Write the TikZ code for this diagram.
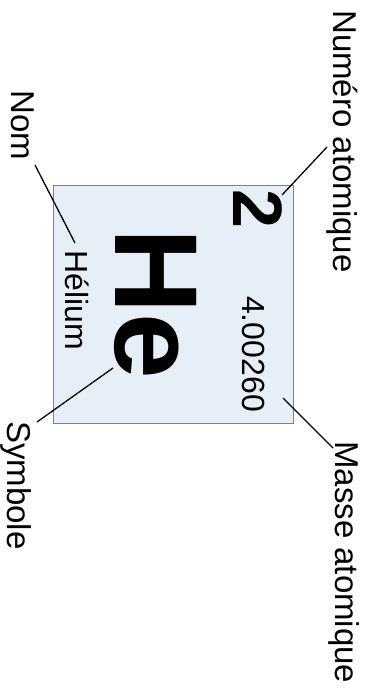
\documentclass[tikz,border=0pt]{standalone}
\usepackage{fontspec}
\setmainfont{Liberation Sans}
\usetikzlibrary{positioning}
\definecolor{cellfill}{RGB}{230,238,248}
\definecolor{cellline}{RGB}{128,128,128}

\begin{document}
\begin{tikzpicture}[x=1pt,y=1pt,
  lbl/.style={rotate=-90,anchor=base west,inner sep=0pt,font=\fontsize{33}{33}\selectfont},
  inlbl/.style={rotate=-90,anchor=base west,inner sep=0pt,font=\fontsize{32}{32}\selectfont},
  lead/.style={line width=1.3pt,black},
]
  \useasboundingbox (0,0) rectangle (368,-691);
  % element cell
  \node[draw=cellline,line width=1.3pt,fill=cellfill,minimum width=240pt,minimum height=238pt,
    inner sep=0pt,anchor=north west] (cell) at (53,-185) {};
  \node[rotate=-90,anchor=base west,inner sep=0pt,font=\fontsize{70}{70}\selectfont\bfseries] (num) at (233,-189) {2};
  \node[rotate=-90,anchor=base west,inner sep=0pt,font=\fontsize{118}{118}\selectfont\bfseries] (sym) at (115,-228) {He};
  \node[inlbl] (name) at (65,-250) {Hélium};
  \node[inlbl] (mass) at (242,-296) {4.00260};
  % labels
  \node[lbl] (lnum) at (333,-10) {Numéro atomique};
  \node[lbl] (lname) at (12,-90) {Nom};
  \node[lbl] (lsym) at (8,-421) {Symbole};
  \node[lbl] (lmass) at (335,-441) {Masse atomique};
  % leaders
  \coordinate (numa) at (327,-147); \coordinate (numb) at (282,-195);
  \coordinate (namea) at (35,-165); \coordinate (nameb) at (75,-243);
  \coordinate (syma) at (113,-368); \coordinate (symb) at (37,-422);
  \coordinate (massa) at (283,-398); \coordinate (massb) at (333,-448);
  \draw[lead] (numa) -- (numb);
  \draw[lead] (namea) -- (nameb);
  \draw[lead] (syma) -- (symb);
  \draw[lead] (massa) -- (massb);
\end{tikzpicture}
\end{document}
